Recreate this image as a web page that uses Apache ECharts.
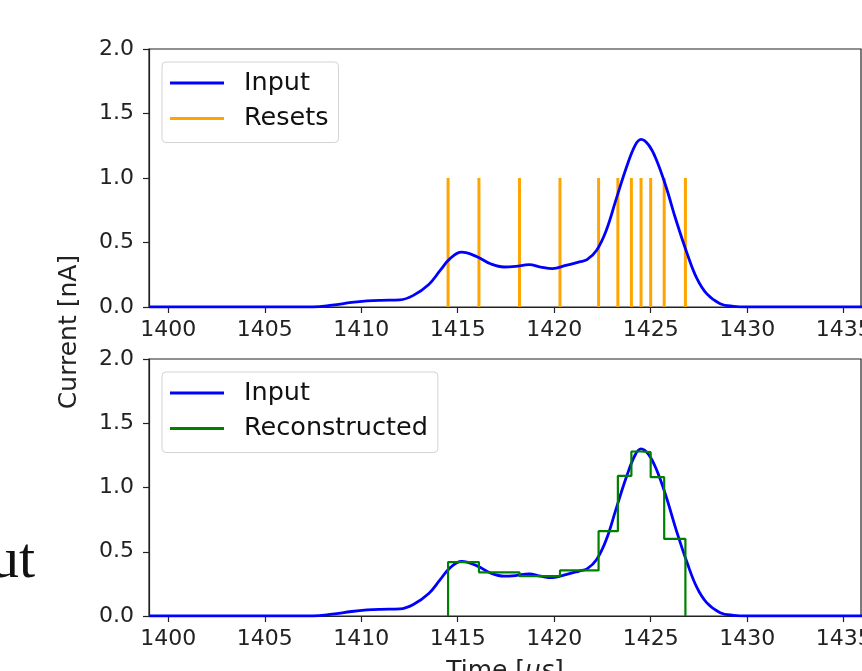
<!DOCTYPE html>
<html>
<head>
<meta charset="utf-8">
<script src="https://cdn.jsdelivr.net/npm/echarts@6/dist/echarts.min.js"></script>
<style>
  html, body { margin: 0; padding: 0; background: #fff; }
  #chart { width: 862px; height: 671px; }
</style>
</head>
<body>
<div id="chart"></div>
<script>
// input pulse
var inputTime = [1399, 1407.5, 1408.5, 1409.5, 1410.3, 1411, 1412, 1412.7, 1413.5, 1414.1, 1414.6, 1415.2,
  1416, 1416.7, 1417.4, 1418, 1418.7, 1419.3, 1419.9, 1420.6, 1421.3, 1421.7, 1422.2, 1422.7, 1423.2,
  1423.75, 1424.2, 1424.5, 1424.9, 1425.3, 1425.8, 1426.3, 1426.9, 1427.4, 1427.9, 1428.6, 1429.3, 1430, 1436];
var inputCurrent = [0, 0, 0.014, 0.035, 0.047, 0.052, 0.055, 0.09, 0.175, 0.285, 0.375, 0.425,
  0.39, 0.335, 0.31, 0.315, 0.328, 0.31, 0.298, 0.322, 0.35, 0.367, 0.44, 0.595, 0.83,
  1.085, 1.255, 1.3, 1.255, 1.14, 0.93, 0.68, 0.41, 0.22, 0.104, 0.026, 0.005, 0, 0];

// reset times and the reconstructed level between consecutive resets
var resetTimes = [1414.5, 1416.1, 1418.2, 1420.3, 1422.3, 1423.3, 1424.0, 1424.5, 1425.0, 1425.7, 1426.8];
var resetHeight = 1.0;
var reconLevels = [0.42, 0.34, 0.31, 0.355, 0.66, 1.09, 1.28, 1.275, 1.08, 0.60];

var xTicks = [1400, 1405, 1410, 1415, 1420, 1425, 1430, 1435];

var FONT = 'DejaVu Sans';
var AX = '#222';

var inputData = inputTime.map(function (t, i) { return [t, inputCurrent[i]]; });

var resetData = [];
resetTimes.forEach(function (t) {
  resetData.push([t, 0], [t, resetHeight], [t, '-']);
});

var reconData = [[resetTimes[0], 0]];
for (var i = 0; i < reconLevels.length; i++) {
  reconData.push([resetTimes[i], reconLevels[i]]);
}
reconData.push([resetTimes[resetTimes.length - 1], 0]);

function xAxisFor(idx) {
  var ax = {
    type: 'value', gridIndex: idx, min: 1399, max: 1435.9,
    axisLine: { show: true, onZero: false, lineStyle: { color: AX, width: 1.2 } },
    axisTick: { show: true, length: 6, customValues: xTicks, lineStyle: { color: AX, width: 1.2 } },
    axisLabel: { customValues: xTicks, margin: 12, fontSize: 22, color: AX, fontFamily: FONT,
      formatter: function (v) { return String(v); } },
    splitLine: { show: false }
  };
  if (idx === 1) {
    ax.name = 'Time [{i|μs}]';
    ax.nameLocation = 'middle';
    ax.nameGap = 43;
    ax.nameTextStyle = { fontSize: 25, color: AX, fontFamily: FONT,
      rich: { i: { fontSize: 25, fontStyle: 'italic', color: AX, fontFamily: FONT } } };
  }
  return ax;
}

function yAxisFor(idx) {
  return {
    type: 'value', gridIndex: idx, min: 0, max: 2, interval: 0.5,
    axisLine: { show: true, lineStyle: { color: AX, width: 1.2 } },
    axisTick: { show: true, length: 6, lineStyle: { color: AX, width: 1.2 } },
    axisLabel: { margin: 15, fontSize: 22, color: AX, fontFamily: FONT,
      formatter: function (v) { return v.toFixed(1); } },
    splitLine: { show: false }
  };
}

function legendFor(top, names) {
  return {
    data: names, orient: 'vertical', left: 162, top: top,
    icon: 'rect', itemWidth: 54, itemHeight: 3, itemGap: 5.5,
    padding: [6, 10, 9, 8],
    backgroundColor: 'rgba(255,255,255,0.8)', borderColor: '#d4d4d4', borderWidth: 1, borderRadius: 4,
    textStyle: { fontSize: 25.5, color: '#111', fontFamily: FONT, lineHeight: 30, padding: [0, 0, 0, 15] }
  };
}

var chart = echarts.init(document.getElementById('chart'));
chart.setOption({
  animation: false,
  backgroundColor: '#fff',
  grid: [
    { left: 149, top: 49, width: 712, height: 258, show: true, borderColor: AX, borderWidth: 1.2, outerBoundsMode: 'none' },
    { left: 149, top: 359, width: 712, height: 257, show: true, borderColor: AX, borderWidth: 1.2, outerBoundsMode: 'none' }
  ],
  xAxis: [xAxisFor(0), xAxisFor(1)],
  yAxis: [yAxisFor(0), yAxisFor(1)],
  legend: [legendFor(62, ['Input', 'Resets']), legendFor(372, ['Input', 'Reconstructed'])],
  graphic: [
    { type: 'text', x: 69, y: 332, rotation: Math.PI / 2,
      style: { text: 'Current [nA]', fontSize: 25, fill: AX, fontFamily: FONT, textAlign: 'center', textVerticalAlign: 'middle' } },
    { type: 'text', x: 35, y: 562,
      style: { text: 'ut', fontSize: 58, fill: '#111', fontFamily: 'Liberation Serif', textAlign: 'right', textVerticalAlign: 'middle' } }
  ],
  series: [
    { name: 'Input', type: 'line', xAxisIndex: 0, yAxisIndex: 0, data: inputData,
      symbol: 'none', smooth: 0.4, lineStyle: { color: '#0000ff', width: 2.8 }, itemStyle: { color: '#0000ff' }, z: 3 },
    { name: 'Resets', type: 'line', xAxisIndex: 0, yAxisIndex: 0, data: resetData,
      symbol: 'none', connectNulls: false, lineStyle: { color: '#ffa500', width: 3 }, itemStyle: { color: '#ffa500' }, z: 2 },
    { name: 'Input', type: 'line', xAxisIndex: 1, yAxisIndex: 1, data: inputData,
      symbol: 'none', smooth: 0.4, lineStyle: { color: '#0000ff', width: 2.8 }, itemStyle: { color: '#0000ff' }, z: 2 },
    { name: 'Reconstructed', type: 'line', xAxisIndex: 1, yAxisIndex: 1, data: reconData,
      symbol: 'none', step: 'end', lineStyle: { color: '#008000', width: 2.2 }, itemStyle: { color: '#008000' }, z: 3 }
  ]
});
window.addEventListener('resize', function () { chart.resize(); });
</script>
</body>
</html>
